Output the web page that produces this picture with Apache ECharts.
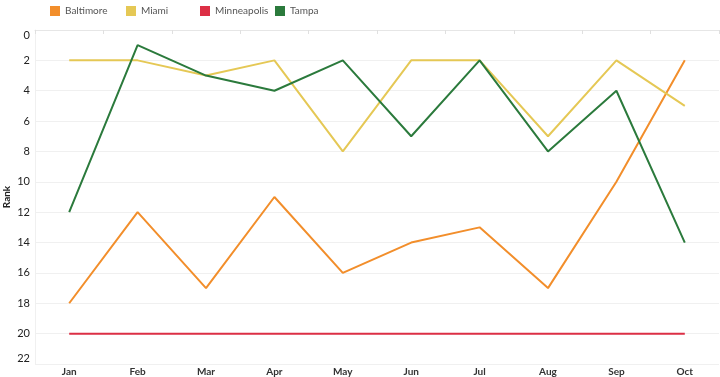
<!DOCTYPE html>
<html>
<head>
<meta charset="utf-8">
<script src="https://cdn.jsdelivr.net/npm/echarts@6/dist/echarts.min.js"></script>
<style>
    html, body { margin: 0; padding: 0; background: #fff; }
    #chart { width: 720px; height: 377px; }
</style>
</head>
<body>
<div id="chart"></div>
<script>
// 月份
var months = ['Jan', 'Feb', 'Mar', 'Apr', 'May', 'Jun', 'Jul', 'Aug', 'Sep', 'Oct'];
// 各城市排名
var baltimore = [18, 12, 17, 11, 16, 14, 13, 17, 10, 2];
var miami = [2, 2, 3, 2, 8, 2, 2, 7, 2, 5];
var minneapolis = [20, 20, 20, 20, 20, 20, 20, 20, 20, 20];
var tampa = [12, 1, 3, 4, 2, 7, 2, 8, 4, 14];
var cities = ['Baltimore', 'Miami', 'Minneapolis', 'Tampa'];
var colors = ['#f28e2b', '#e5c855', '#dc2f45', '#2b7a3c'];

(function() {
    var myChart = echarts.init(document.querySelector('#chart'));
    var dataList = [baltimore, miami, minneapolis, tampa];
    // 图例位置：每一项单独放
    var legendLeft = [45, 121, 195, 270];

    var option = {
        color: colors,
        textStyle: { fontFamily: 'Lato, "Open Sans", sans-serif' },
        legend: cities.map(function(name, i) {
            return {
                left: legendLeft[i],
                top: 1,
                icon: 'rect',
                itemWidth: 10,
                itemHeight: 10,
                itemGap: 0,
                textStyle: { color: '#555', fontSize: 10 },
                data: [name]
            };
        }),
        grid: {
            left: 35,
            right: 1,
            top: 30,
            bottom: 13,
            containLabel: false,
            outerBoundsMode: 'none'
        },
        xAxis: {
            type: 'category',
            data: months,
            boundaryGap: true,
            axisLine: { lineStyle: { color: '#e6e6e6' } },
            axisTick: { show: true, length: 4, lineStyle: { color: '#e0e0e0' } },
            axisLabel: {
                color: '#333',
                fontSize: 10,
                fontWeight: 'bold',
                margin: 3
            }
        },
        yAxis: {
            type: 'value',
            inverse: true,
            min: 0,
            max: 22,
            interval: 2,
            name: 'Rank',
            nameLocation: 'middle',
            nameGap: 23,
            nameRotate: 90,
            nameMoveOverlap: false,
            nameTextStyle: { color: '#222', fontSize: 10, fontWeight: 'bold' },
            axisLine: { show: true, lineStyle: { color: '#f0f0f0' } },
            axisTick: { show: false },
            splitLine: { lineStyle: { color: '#f0f0f0' } },
            axisLabel: {
                color: '#222',
                fontSize: 11,
                margin: 5,
                verticalAlignMinLabel: 'top',
                verticalAlignMaxLabel: 'bottom'
            }
        },
        series: cities.map(function(name, i) {
            return {
                name: name,
                type: 'line',
                data: dataList[i],
                symbol: 'none',
                lineStyle: { width: 2 }
            };
        })
    };
    myChart.setOption(option);
})();
</script>
</body>
</html>
